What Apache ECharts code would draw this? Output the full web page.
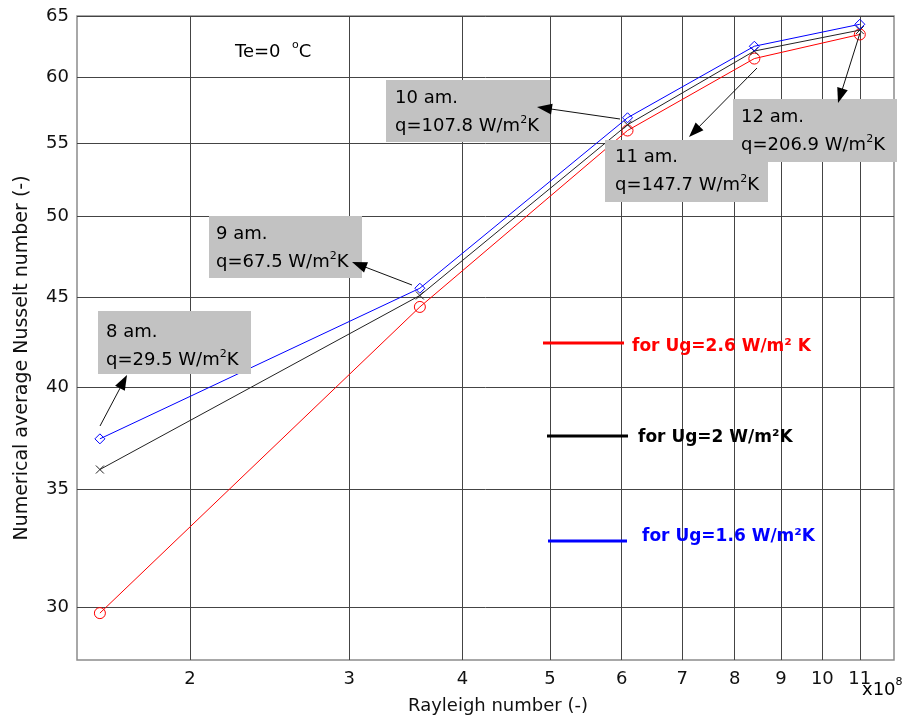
<!DOCTYPE html>
<html>
<head>
<meta charset="utf-8">
<script src="https://cdn.jsdelivr.net/npm/echarts@6/dist/echarts.min.js"></script>
<style>
  html, body { margin: 0; padding: 0; background: #fff; }
  #chart { width: 910px; height: 722px; }
</style>
</head>
<body>
<div id="chart"></div>
<script>
// Rayleigh number (x10^8) at each hour of the day
const rayleigh = [1.59, 3.59, 6.09, 8.41, 11.0];
// Numerical average Nusselt number for each glazing U-value
const nuUg26 = [29.77, 44.43, 55.96, 61.48, 63.45];
const nuUg20 = [35.92, 45.10, 56.38, 62.09, 63.81];
const nuUg16 = [37.39, 45.53, 56.90, 62.48, 64.30];
// Tick values
const xTicks = [2, 3, 4, 5, 6, 7, 8, 9, 10, 11];
const yTicks = [30, 35, 40, 45, 50, 55, 60, 65];
// Hour and heat flux annotations
const hours = ['8 am.', '9 am.', '10 am.', '11 am.', '12 am.'];
const heatFlux = ['29.5', '67.5', '107.8', '147.7', '206.9'];
const seriesNames = ['for Ug=2.6 W/m² K', 'for Ug=2 W/m²K', 'for Ug=1.6 W/m²K'];

const FONT = 'DejaVu Sans';

function pairs(ys) { return rayleigh.map((x, i) => [x, ys[i]]); }

// Placement of the callout boxes and their arrows (pixels)
const calloutLayout = [
  { box: [98, 311, 153, 63], text: [106, 330], tail: [100, 426], tip: [127, 375] },
  { box: [209, 216, 153, 62], text: [216, 232], tail: [412, 285], tip: [352, 262] },
  { box: [386, 80, 164, 62], text: [395, 96], tail: [620, 119], tip: [537, 107] },
  { box: [605, 140, 163, 62], text: [615, 155], tail: [757, 68], tip: [689, 137] },
  { box: [733, 99, 164, 63], text: [741, 115], tail: [860, 33], tip: [838, 103] }
];

const legendLayout = [
  { color: '#ff0000', line: [543, 624, 343], text: [632, 347] },
  { color: '#000000', line: [547, 628, 436], text: [638, 438] },
  { color: '#0000ff', line: [548, 627, 541], text: [642, 537] }
];

function arrowHead(tail, tip, len, half) {
  const dx = tip[0] - tail[0], dy = tip[1] - tail[1];
  const d = Math.hypot(dx, dy);
  const ux = dx / d, uy = dy / d;
  const bx = tip[0] - ux * len, by = tip[1] - uy * len;
  return [tip, [bx - uy * half, by + ux * half], [bx + uy * half, by - ux * half]];
}

// Rich-text styles: normal text plus a small raised superscript
function supStyles(size, raise) {
  return {
    rich: {
      t: { fontFamily: FONT, fontSize: size, color: '#111', height: 24, lineHeight: 28, verticalAlign: 'bottom' },
      s: { fontFamily: FONT, fontSize: 11, color: '#111', height: 24, lineHeight: 28, verticalAlign: 'bottom', padding: [0, 0, raise, 0] }
    }
  };
}

const graphics = [];
calloutLayout.forEach((c, i) => {
  graphics.push({
    type: 'rect', z: 10,
    shape: { x: c.box[0], y: c.box[1], width: c.box[2], height: c.box[3] },
    style: { fill: '#c2c2c2' }
  });
  graphics.push({
    type: 'text', z: 11, x: c.text[0], y: c.text[1] - 14,
    style: Object.assign({
      text: '{t|' + hours[i] + '}\n{t|q=' + heatFlux[i] + ' W/m}{s|2}{t|K}',
      verticalAlign: 'top', align: 'left'
    }, supStyles(18, 6))
  });
  const shaftEnd = arrowHead(c.tail, c.tip, 12, 0);
  graphics.push({
    type: 'line', z: 12,
    shape: { x1: c.tail[0], y1: c.tail[1], x2: shaftEnd[1][0], y2: shaftEnd[1][1] },
    style: { stroke: '#111', lineWidth: 1 }
  });
  graphics.push({
    type: 'polygon', z: 12,
    shape: { points: arrowHead(c.tail, c.tip, 15, 5.5) },
    style: { fill: '#000' }
  });
});

legendLayout.forEach((l, i) => {
  graphics.push({
    type: 'line', z: 10,
    shape: { x1: l.line[0], y1: l.line[2], x2: l.line[1], y2: l.line[2] },
    style: { stroke: l.color, lineWidth: 3 }
  });
  graphics.push({
    type: 'text', z: 10, x: l.text[0], y: l.text[1],
    style: {
      text: seriesNames[i], fill: l.color, fontFamily: FONT, fontSize: 17,
      fontWeight: 'bold', verticalAlign: 'middle', align: 'left'
    }
  });
});

// Condition label and axis multiplier
graphics.push({
  type: 'text', z: 10, x: 235, y: 50,
  style: Object.assign({ text: '{t|Te=0  }{s|o}{t|C}', verticalAlign: 'middle', align: 'left' }, supStyles(18, 7))
});
graphics.push({
  type: 'text', z: 10, x: 862, y: 688,
  style: Object.assign({ text: '{t|x10}{s|8}', verticalAlign: 'middle', align: 'left' }, supStyles(18, 8))
});

// Axis titles
graphics.push({
  type: 'text', z: 10, x: 498, y: 706,
  style: { text: 'Rayleigh number (-)', fontFamily: FONT, fontSize: 18, fill: '#111', align: 'center', verticalAlign: 'middle' }
});
graphics.push({
  type: 'text', z: 10, x: 22, y: 358, rotation: Math.PI / 2,
  style: { text: 'Numerical average Nusselt number (-)', fontFamily: FONT, fontSize: 19, fill: '#111', align: 'center', verticalAlign: 'middle' }
});

const chart = echarts.init(document.getElementById('chart'), null, { renderer: 'canvas' });

const option = {
  animation: false,
  backgroundColor: '#fff',
  textStyle: { fontFamily: FONT },
  grid: {
    left: 77, right: 16, top: 16, bottom: 62,
    show: true, borderColor: '#8c8c8c', borderWidth: 1.5, backgroundColor: 'transparent'
  },
  xAxis: {
    type: 'log', logBase: 10, min: 1.5, max: 12,
    axisLine: { show: false },
    axisTick: { show: false, customValues: xTicks },
    axisLabel: { customValues: xTicks, fontFamily: FONT, fontSize: 18, color: '#111', margin: 10 },
    splitLine: { show: true, lineStyle: { color: '#444', width: 1 } },
    minorSplitLine: { show: false }
  },
  yAxis: {
    type: 'log', logBase: 10, min: 28, max: 65,
    axisLine: { show: false },
    axisTick: { show: false, customValues: yTicks },
    axisLabel: { customValues: yTicks, fontFamily: FONT, fontSize: 18, color: '#111', margin: 8 },
    splitLine: { show: true, lineStyle: { color: '#444', width: 1 } }
  },
  series: [
    {
      name: seriesNames[0], type: 'line', data: pairs(nuUg26),
      symbol: 'circle', symbolSize: 11,
      lineStyle: { color: '#ff0000', width: 1 },
      itemStyle: { color: 'rgba(255,255,255,0)', borderColor: '#ff0000', borderWidth: 1 },
      z: 3
    },
    {
      name: seriesNames[1], type: 'line', data: pairs(nuUg20),
      symbol: 'path://M0,0L10,10M10,0L0,10', symbolSize: 8,
      lineStyle: { color: '#222', width: 1 },
      itemStyle: { color: 'rgba(255,255,255,0)', borderColor: '#222', borderWidth: 1 },
      z: 4
    },
    {
      name: seriesNames[2], type: 'line', data: pairs(nuUg16),
      symbol: 'diamond', symbolSize: 10,
      lineStyle: { color: '#0000ff', width: 1 },
      itemStyle: { color: 'rgba(255,255,255,0)', borderColor: '#0000ff', borderWidth: 1 },
      z: 5
    }
  ],
  graphic: graphics
};

chart.setOption(option);
</script>
</body>
</html>
